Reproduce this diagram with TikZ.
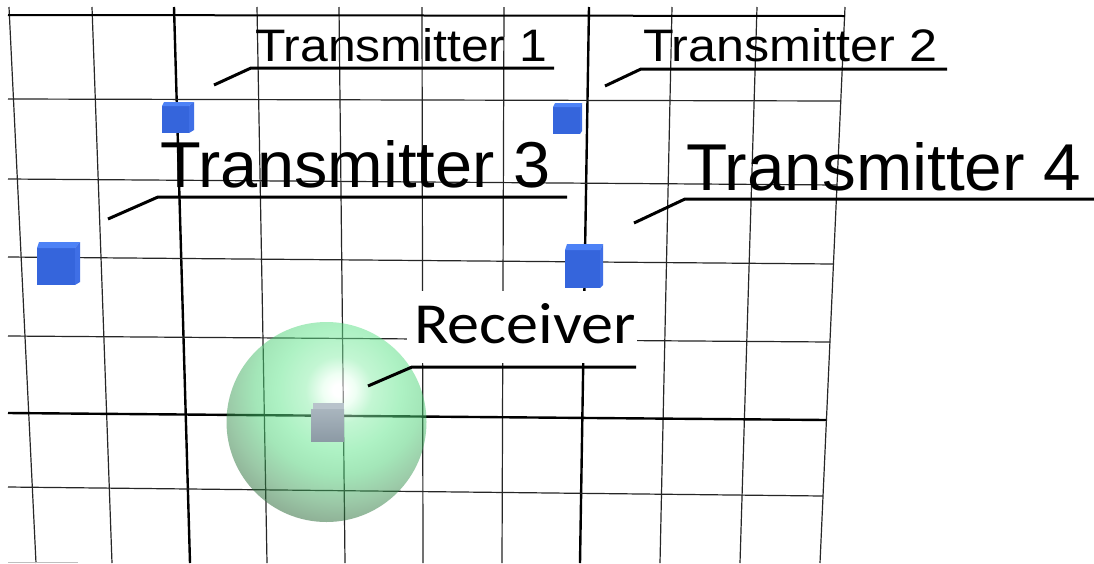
\documentclass[tikz,border=0pt]{standalone}
\usepackage{fontspec}
\usepackage{graphicx}
\setmainfont{Liberation Sans}
\newfontfamily\receiverfont{Carlito}

% colours of the cubes and of the glass ball
\definecolor{cubefront}{HTML}{3565DC}
\definecolor{cubetop}{HTML}{4D82F6}
\definecolor{cubeside}{HTML}{3F6FE6}
\definecolor{rxtop}{HTML}{B8C3CB}
\definecolor{rxhi}{HTML}{A9B5BE}
\definecolor{rxlo}{HTML}{8C9AA5}
\definecolor{ballA}{HTML}{DFFFE9}
\definecolor{ballB}{HTML}{89EFA9}
\definecolor{ballC}{HTML}{5DE589}
\definecolor{ballD}{HTML}{49CF73}
\definecolor{ballE}{HTML}{399551}
\definecolor{ballF}{HTML}{1F612D}

% the path's bounding box covers the inner 50bp square of the shading
\pgfdeclareradialshading{glassball}{\pgfpoint{0bp}{0bp}}{%
  color(0bp)=(white);
  color(1.2bp)=(white);
  color(3bp)=(ballA);
  color(6bp)=(ballB);
  color(11bp)=(ballC);
  color(15bp)=(ballD);
  color(20bp)=(ballE);
  color(24bp)=(ballF);
  color(50bp)=(ballF)}

% a small blue box: left, top, right, bottom, top-strip height, side-strip width
\newcommand{\txcube}[6]{%
  \fill[cubefront] (#1,#2+#5) rectangle (#3-#6,#4);
  \fill[cubetop] (#1+2,#2) -- (#3,#2) -- (#3-#6,#2+#5) -- (#1,#2+#5) -- cycle;
  \fill[cubeside] (#3-#6,#2+#5) -- (#3,#2) -- (#3,#4-3) -- (#3-#6,#4) -- cycle;
}

\begin{document}
\begin{tikzpicture}[x=1pt,y=-1pt,
  gridthin/.style={line width=1.2pt, draw=black!85},
  gridthick/.style={line width=2.4pt, draw=black},
  leader/.style={line width=3pt, draw=black, line join=round},
  tagtext/.style={anchor=base west, inner sep=0pt, outer sep=0pt}]

\useasboundingbox (0,0) rectangle (1094,563);
\fill[white] (0,0) rectangle (1094,563);

% floor grid: vertical lines (top x / bottom x)
\foreach \xt/\xb in {9/36, 92/112, 257/267, 339/345, 422/423, 504/502, 672/660, 757/740, 845/820}
  \draw[gridthin] (\xt,7) -- (\xb,563);
\foreach \xt/\xb in {174/190, 589/580}
  \draw[gridthick] (\xt,7) -- (\xb,563);

% floor grid: horizontal lines (left y / right y / right x)
\draw[line width=2pt, draw=black] (8,15) -- (845,16);
\foreach \yl/\yr/\xr in {99/101/841, 179/185/837, 257/264/833, 336/342/830, 487/496/823}
  \draw[gridthin] (8,\yl) -- (\xr,\yr);
\draw[gridthick] (8,413) -- (826,420);
\draw[line width=1pt, draw=black!25] (8,562) -- (78,562);

% white plate behind the receiver caption
\fill[white] (407,291) rectangle (637,363);

% transmitter boxes
\txcube{162}{102}{194}{133}{4}{5}
\txcube{553}{103}{582}{134}{4}{2}
\txcube{37}{242}{80}{285}{6}{5}
\txcube{565}{244}{603}{288}{6}{3}

% translucent ball round the receiver
\coordinate (ballc) at (326.5,422);
\begin{scope}
  \clip (ballc) circle (100);
  \shade[shading=glassball, fill opacity=0.5] (339,390) circle (140);
\end{scope}

% receiver box
\shade[top color=rxhi, bottom color=rxlo] (311,409) rectangle (344,441);
\fill[rxtop] (313,403) rectangle (344,409);

% captions
\node[tagtext] (t1) at (255,61) {\resizebox{292pt}{33pt}{Transmitter 1}};
\node[tagtext] (t2) at (643,61) {\resizebox{294pt}{33pt}{Transmitter 2}};
\node[tagtext] (t3) at (160,187) {\resizebox{390pt}{47pt}{Transmitter 3}};
\node[tagtext] (t4) at (686,190) {\resizebox{395pt}{48pt}{Transmitter 4}};
\node[tagtext] (rx) at (414,343) {\resizebox{222pt}{40pt}{\receiverfont Receiver}};

% leader lines
\coordinate (t1tip) at (214,85);  \coordinate (t1knee) at (251,68);  \coordinate (t1end) at (554,68);
\coordinate (t2tip) at (605,86);  \coordinate (t2knee) at (641,69);  \coordinate (t2end) at (947,69);
\coordinate (t3tip) at (108,219); \coordinate (t3knee) at (158,197); \coordinate (t3end) at (567,197);
\coordinate (t4tip) at (634,223); \coordinate (t4knee) at (685,199); \coordinate (t4end) at (1094,199);
\coordinate (rxtip) at (368,386); \coordinate (rxknee) at (412,367); \coordinate (rxend) at (636,367);
\foreach \n in {t1,t2,t3,t4,rx}
  \draw[leader] (\n tip) -- (\n knee) -- (\n end);

\end{tikzpicture}
\end{document}
